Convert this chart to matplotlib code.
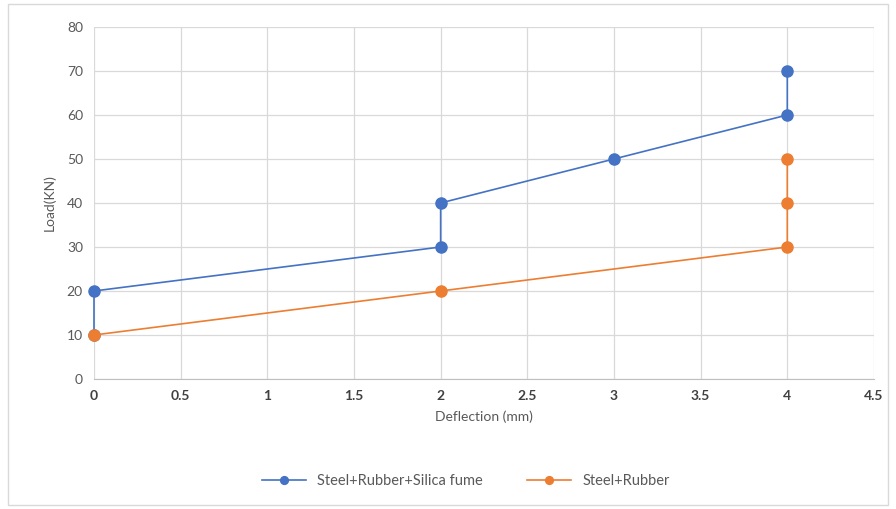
import matplotlib
matplotlib.use("Agg")
import matplotlib.pyplot as plt
from matplotlib.patches import Rectangle

plt.rcParams['font.family'] = ['Lato', 'DejaVu Sans']

# load-deflection readings for the two mixes
silica_defl = [0, 0, 2, 2, 3, 4, 4]
silica_load = [10, 20, 30, 40, 50, 60, 70]
rubber_defl = [0, 2, 4, 4, 4]
rubber_load = [10, 20, 30, 40, 50]

x_ticks = [0, 0.5, 1, 1.5, 2, 2.5, 3, 3.5, 4, 4.5]
x_labels = ['0', '0.5', '1', '1.5', '2', '2.5', '3', '3.5', '4', '4.5']
y_ticks = [0, 10, 20, 30, 40, 50, 60, 70, 80]

blue = '#4472C4'
orange = '#ED7D31'
txt = '#595959'

fig = plt.figure(figsize=(8.96, 5.09), dpi=100)
fig.patches.append(Rectangle((0.009, 0.008), 0.982, 0.984, transform=fig.transFigure,
                             fill=False, edgecolor='#D9D9D9', linewidth=1))
ax = fig.add_axes([0.1049, 0.2554, 0.8705, 0.6916])

ax.plot(silica_defl, silica_load, color=blue, lw=1.2, marker='o', ms=8,
        label='Steel+Rubber+Silica fume', zorder=3, clip_on=False)
ax.plot(rubber_defl, rubber_load, color=orange, lw=1.2, marker='o', ms=8,
        label='Steel+Rubber', zorder=4, clip_on=False)

ax.set_xlim(0, 4.5)
ax.set_ylim(0, 80)
ax.set_xticks(x_ticks)
ax.set_xticklabels(x_labels)
ax.set_yticks(y_ticks)
ax.grid(True, color='#D9D9D9', lw=0.9)
ax.set_axisbelow(True)
for s in ['top', 'right', 'left']:
    ax.spines[s].set_visible(False)
ax.spines['bottom'].set_color('#BFBFBF')
ax.tick_params(axis='both', length=0, colors=txt, labelsize=10, pad=8)
for lbl in ax.get_xticklabels():
    lbl.set_color('#404040')
    lbl.set_fontweight('bold')

ax.set_xlabel('Deflection (mm)', color=txt, fontsize=10, labelpad=6)
ax.set_ylabel('Load(KN)', color=txt, fontsize=10, labelpad=8)

fig.legend(loc='center', bbox_to_anchor=(0.52, 0.055), ncol=2, frameon=False,
           fontsize=10.5, labelcolor=txt, handlelength=3, columnspacing=3,
           markerscale=0.7)

fig.savefig('out.png', dpi=100)
